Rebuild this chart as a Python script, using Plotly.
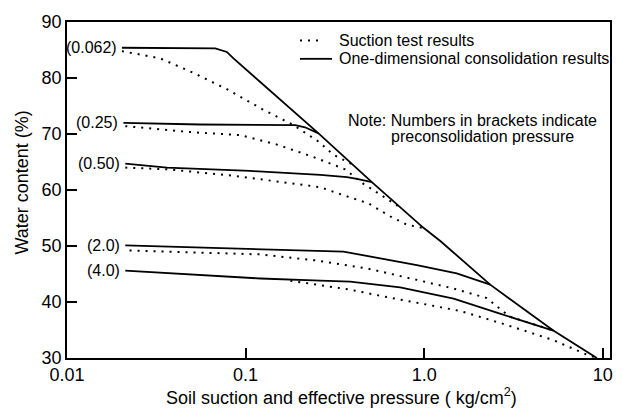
import math
import plotly.graph_objects as go

# Preconsolidation pressure labels (kg/cm^2)
labels = ["(0.062)", "(0.25)", "(0.50)", "(2.0)", "(4.0)"]

# One-dimensional consolidation curves (solid); the 0.062 curve carries the virgin line
cons_0062_x = [0.0203, 0.0676, 0.0785, 0.0855, 0.256, 0.385, 0.509, 0.99, 1.23, 2.34, 5.28, 9.25]
cons_0062_y = [85.4, 85.3, 84.65, 83.5, 70.1, 64.9, 61.4, 53.25, 50.9, 43.1, 34.9, 30.0]
cons_025_x = [0.0207, 0.0559, 0.1896, 0.215, 0.256]
cons_025_y = [72.0, 71.7, 71.6, 71.2, 70.1]
cons_050_x = [0.0212, 0.0363, 0.106, 0.262, 0.369, 0.42, 0.509]
cons_050_y = [64.7, 64.0, 63.4, 62.7, 62.3, 62.0, 61.4]
cons_20_x = [0.0212, 0.121, 0.262, 0.353, 0.909, 1.52, 2.34]
cons_20_y = [50.1, 49.5, 49.2, 49.0, 46.6, 45.1, 43.1]
cons_40_x = [0.0212, 0.121, 0.262, 0.385, 0.733, 1.46, 2.6, 5.28]
cons_40_y = [45.6, 44.2, 43.8, 43.65, 42.6, 40.6, 38.0, 34.9]

# Suction test curves (dotted)
suc_0062_x = [0.0203, 0.0333, 0.0511, 0.0785, 0.123, 0.185, 0.256, 0.310, 0.394]
suc_0062_y = [84.8, 83.5, 80.9, 78.0, 74.5, 71.6, 68.65, 66.3, 64.6]
suc_025_x = [0.0212, 0.0511, 0.0933, 0.150, 0.235, 0.360, 0.457, 0.618, 0.733]
suc_025_y = [71.4, 70.3, 69.8, 68.1, 66.0, 63.7, 61.1, 58.5, 56.9]
suc_050_x = [0.0212, 0.0363, 0.0855, 0.262, 0.353, 0.488, 0.644, 0.80, 0.99]
suc_050_y = [64.0, 63.7, 62.55, 60.5, 59.06, 57.6, 55.3, 53.8, 53.2]
suc_20_x = [0.0224, 0.121, 0.251, 0.478, 0.909, 1.46, 2.24, 3.0, 5.28]
suc_20_y = [49.2, 48.5, 47.4, 46.0, 43.95, 42.4, 40.7, 37.4, 34.9]
suc_40_x = [0.178, 0.251, 0.385, 0.592, 0.909, 1.59, 2.77, 5.28, 8.13, 9.25]
suc_40_y = [43.8, 43.1, 42.2, 41.0, 39.9, 38.4, 36.1, 33.2, 30.6, 30.0]

x_tickvals = [0.01, 0.1, 1, 10]
x_ticktext = ["0.01", "0.1", "1.0", "10"]
y_tickvals = [30, 40, 50, 60, 70, 80, 90]

legend_names = ["Suction test results", "One-dimensional consolidation results"]

FONT = "Liberation Sans, Arial, Helvetica, sans-serif"
INK = "black"
DOT = "2px,6px"

cons = [(cons_0062_x, cons_0062_y), (cons_025_x, cons_025_y), (cons_050_x, cons_050_y),
        (cons_20_x, cons_20_y), (cons_40_x, cons_40_y)]
suc = [(suc_0062_x, suc_0062_y), (suc_025_x, suc_025_y), (suc_050_x, suc_050_y),
       (suc_20_x, suc_20_y), (suc_40_x, suc_40_y)]

fig = go.Figure()

for xs, ys in suc:
    fig.add_trace(go.Scatter(
        x=xs, y=ys, mode="lines",
        line=dict(color=INK, width=2, dash=DOT),
        name=legend_names[0], showlegend=False, hoverinfo="skip"))

for xs, ys in cons:
    fig.add_trace(go.Scatter(
        x=xs, y=ys, mode="lines",
        line=dict(color=INK, width=1.8),
        name=legend_names[1], showlegend=False, hoverinfo="skip"))

# Pressure labels at the start of each consolidation curve (log axis -> log10 position)
for lab, (xs, ys) in zip(labels, cons):
    fig.add_annotation(x=math.log10(xs[0]), y=ys[0], xref="x", yref="y", text=lab,
                       showarrow=False, xanchor="right", yanchor="middle", xshift=-3,
                       font=dict(family=FONT, size=16, color=INK))

# Key in the upper right corner
key_rows = [(0.9448, 0.4715, DOT, 2), (0.8904, 0.488, "solid", 1.8)]
for name, (ky, kx1, dash, w) in zip(legend_names, key_rows):
    fig.add_shape(type="line", xref="paper", yref="paper", x0=0.4291, x1=kx1, y0=ky, y1=ky,
                  line=dict(color=INK, width=w, dash=dash))
    fig.add_annotation(x=0.4967, y=ky, xref="paper", yref="paper", text=name,
                       showarrow=False, xanchor="left", yanchor="middle",
                       font=dict(family=FONT, size=16, color=INK))

fig.add_annotation(x=0.747, y=0.7064, xref="paper", yref="paper",
                   text="Note: Numbers in brackets indicate", showarrow=False,
                   xanchor="center", yanchor="middle",
                   font=dict(family=FONT, size=16, color=INK))
fig.add_annotation(x=0.765, y=0.658, xref="paper", yref="paper",
                   text="preconsolidation pressure", showarrow=False,
                   xanchor="center", yanchor="middle",
                   font=dict(family=FONT, size=16, color=INK))

# Axis titles
fig.add_annotation(x=-0.083, y=0.522, xref="paper", yref="paper",
                   text="Water content (%)", showarrow=False, textangle=-90,
                   xanchor="center", yanchor="middle",
                   font=dict(family=FONT, size=18, color=INK))
fig.add_annotation(x=0.506, y=-0.116, xref="paper", yref="paper",
                   text="Soil suction and effective pressure ( kg/cm<sup>2</sup>)", showarrow=False,
                   xanchor="center", yanchor="middle",
                   font=dict(family=FONT, size=18, color=INK))

fig.update_xaxes(type="log", range=[-2, 1.04],
                 tickvals=x_tickvals, ticktext=x_ticktext,
                 ticks="inside", ticklen=10, tickwidth=1.5, tickcolor=INK,
                 showline=True, linecolor=INK, linewidth=1.5, mirror=True,
                 showgrid=False, zeroline=False,
                 tickfont=dict(family=FONT, size=18, color=INK))
fig.update_yaxes(range=[30, 90], tickvals=y_tickvals,
                 ticks="inside", ticklen=10, tickwidth=1.5, tickcolor=INK,
                 showline=True, linecolor=INK, linewidth=1.5, mirror=True,
                 showgrid=False, zeroline=False,
                 tickfont=dict(family=FONT, size=18, color=INK))

fig.update_layout(
    width=625, height=411,
    margin=dict(l=67, r=15, t=14, b=53),
    paper_bgcolor="white", plot_bgcolor="white",
    font=dict(family=FONT, color=INK),
    showlegend=False,
)

fig.write_html("out.html")
